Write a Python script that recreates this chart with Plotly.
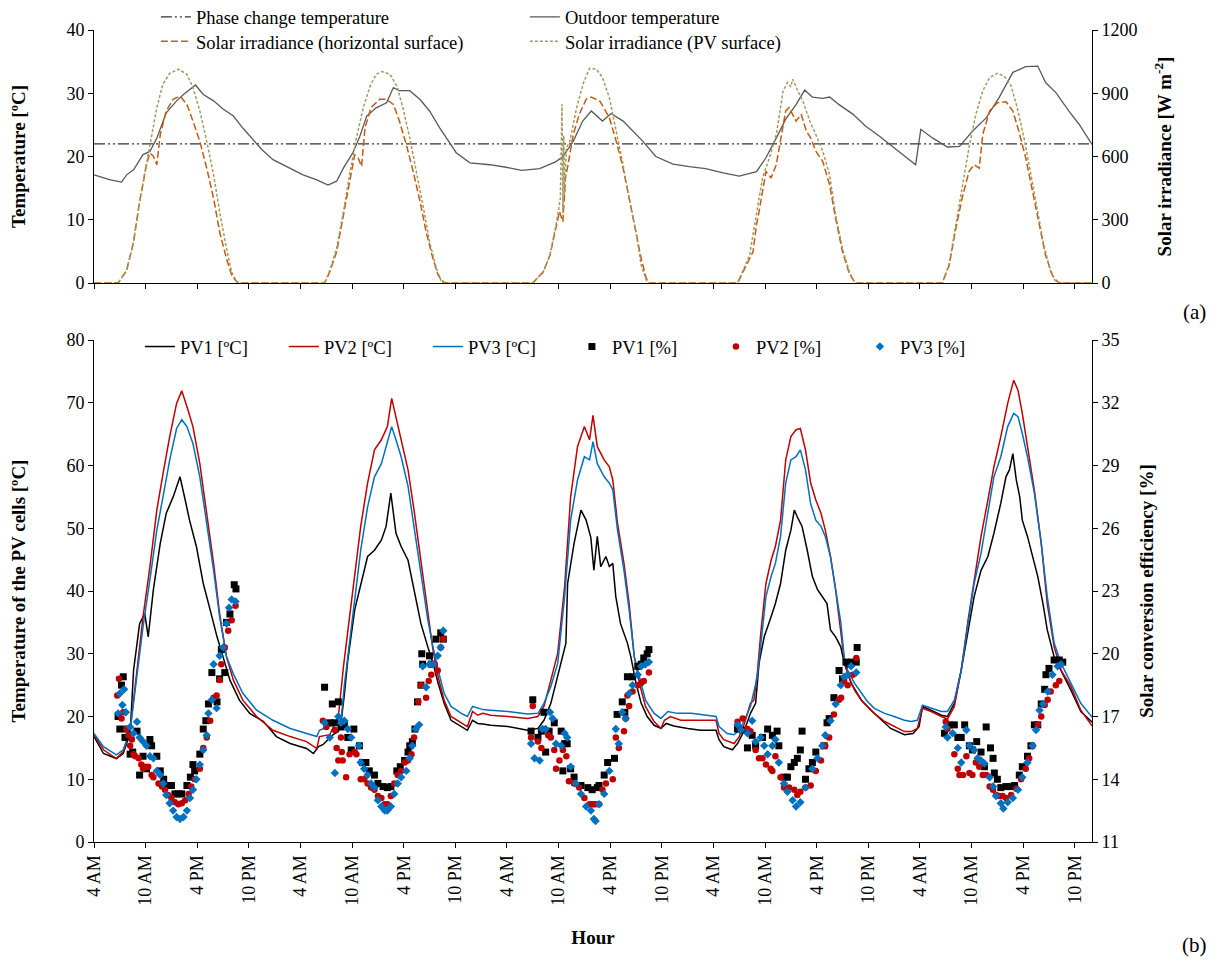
import plotly.graph_objects as go

FONT = "Liberation Serif"

# ---------------- x axis (hours since 4 AM of day 1) ----------------
TICK_HOURS = list(range(0, 115, 6))
TICK_TEXT = ["4 AM", "10 AM", "4 PM", "10 PM"] * 5
X_RANGE = [0, 116]

# ---------------- top panel (a) ----------------
PHASE_CHANGE = [(0, 22.0), (116, 22.0)]

OUTDOOR_TEMP = [
    (0, 17.1), (1.9, 16.3), (3.2, 15.95), (3.8, 17.1), (4.6, 17.9), (5.7, 20.3), (6.5, 20.8), (7.3, 22.9),
    (8.4, 26.9), (9.6, 28.8), (10.4, 29.8), (11.1, 30.6), (11.8, 31.3), (12.7, 29.8), (13.9, 28.8), (15.0, 27.5),
    (16.2, 26.4), (17.3, 24.5), (18.5, 22.7), (19.5, 21.1), (20.8, 19.5), (22.8, 18.2), (24.3, 17.1), (25.9, 16.3),
    (27.2, 15.5), (28.2, 16.1), (29.0, 18.2), (30.1, 20.6), (30.9, 23.2), (31.7, 26.4), (32.8, 27.7), (34.0, 28.5),
    (34.8, 30.9), (35.5, 30.4), (36.7, 30.4), (37.9, 29.0), (39.0, 27.2), (40.2, 24.5), (41.2, 22.4), (42.1, 20.6),
    (43.7, 19.0), (46.0, 18.7), (47.9, 18.3), (49.7, 17.8), (51.8, 18.1), (53.7, 19.2), (54.5, 20.0), (55.7, 22.4),
    (56.8, 25.6), (57.8, 27.2), (59.1, 25.6), (60.1, 26.8), (61.5, 25.6), (62.6, 24.0), (63.8, 22.4), (65.3, 20.0),
    (67.3, 18.8), (69.2, 18.4), (71.1, 18.1), (73.1, 17.4), (75.0, 16.9), (77.0, 17.6), (78.1, 19.8), (79.3, 22.9),
    (80.4, 25.9), (81.6, 28.2), (82.6, 30.5), (83.5, 29.4), (84.7, 29.2), (85.5, 29.4), (86.6, 28.2), (88.2, 26.7),
    (89.7, 24.8), (91.3, 23.2), (92.8, 21.6), (94.4, 20.0), (95.5, 18.7), (96.1, 24.3), (97.5, 22.9), (99.2, 21.5),
    (100.6, 21.6), (102.1, 24.0), (103.7, 26.1), (105.2, 29.3), (106.8, 33.3), (108.3, 34.2), (109.7, 34.3),
    (110.6, 31.7), (111.8, 30.1), (113.3, 27.2), (114.5, 25.1), (116, 21.9),
]

IRR_HORIZONTAL = [
    (0, 0), (2.8, 0), (3.8, 60), (4.6, 196), (5.3, 386), (6.1, 561), (6.5, 617), (6.9, 601), (7.3, 561),
    (7.7, 704), (8.4, 816), (9.2, 871), (10.0, 887), (10.8, 847), (11.5, 768), (12.3, 672), (13.1, 545),
    (13.9, 402), (14.6, 243), (15.4, 116), (16.0, 37), (16.6, 5), (16.9, 0),
    (26.8, 0), (27.4, 52), (28.2, 148), (29.0, 323), (29.7, 482), (30.3, 609), (30.7, 593), (31.1, 553),
    (31.5, 736), (32.2, 832), (33.2, 871), (34.0, 871), (34.8, 847), (35.5, 768), (36.3, 657), (37.1, 529),
    (37.9, 386), (38.6, 243), (39.4, 116), (40.0, 37), (40.6, 5), (40.9, 0),
    (51.0, 0), (52.2, 52), (53.0, 132), (53.7, 275), (54.1, 339), (54.5, 291), (54.8, 500), (55.1, 561),
    (55.7, 704), (56.4, 800), (57.2, 871), (57.8, 882), (58.8, 863), (59.9, 784), (60.7, 672), (61.5, 545),
    (62.2, 402), (63.0, 243), (63.6, 116), (64.2, 21), (64.6, 0),
    (74.8, 0), (75.8, 84), (76.6, 148), (77.0, 275), (77.3, 339), (78.1, 529), (78.7, 498), (79.3, 561),
    (79.9, 704), (80.4, 816), (80.8, 832), (81.2, 800), (81.6, 768), (82.2, 800), (82.8, 720), (83.3, 688),
    (83.9, 625), (84.7, 577), (85.5, 466), (86.2, 307), (87.0, 148), (87.8, 45), (88.4, 5), (88.6, 0),
    (98.6, 0), (99.4, 84), (100.1, 243), (100.9, 402), (101.7, 529), (102.3, 561), (102.9, 545), (103.3, 704),
    (104.1, 816), (105.0, 855), (106.0, 860), (106.8, 816), (107.5, 720), (108.3, 593), (109.1, 434),
    (109.9, 275), (110.6, 132), (111.4, 37), (112.0, 5), (112.3, 0), (116, 0),
]

IRR_PV = [
    (0, 0), (2.8, 0), (3.8, 60), (4.6, 196), (5.3, 386), (6.1, 561), (6.7, 704), (7.3, 832), (8.0, 943),
    (8.8, 994), (9.8, 1014), (10.8, 990), (11.5, 927), (12.3, 816), (13.1, 672), (13.9, 514), (14.6, 339),
    (15.4, 164), (16.0, 52), (16.6, 5), (16.9, 0),
    (26.8, 0), (27.4, 60), (28.2, 164), (29.0, 339), (29.7, 514), (30.5, 688), (31.3, 832), (32.1, 935),
    (32.8, 990), (33.5, 1003), (34.4, 990), (35.2, 935), (35.9, 832), (36.7, 688), (37.5, 529), (38.3, 355),
    (39.0, 196), (39.8, 68), (40.4, 5), (40.8, 0),
    (51.0, 0), (52.2, 52), (53.0, 132), (53.7, 275), (54.2, 400), (54.4, 848), (54.5, 330), (54.6, 700),
    (54.7, 420), (54.9, 640), (55.3, 672), (56.1, 832), (56.9, 951), (57.6, 1018), (58.4, 1014), (59.1, 975),
    (59.9, 879), (60.7, 720), (61.5, 561), (62.2, 402), (63.0, 243), (63.6, 84), (64.2, 13), (64.6, 0),
    (74.8, 0), (76.2, 132), (77.0, 323), (77.7, 498), (78.5, 593), (79.3, 704), (80.1, 911), (80.6, 951),
    (81.0, 930), (81.2, 967), (81.5, 940), (81.8, 911), (82.4, 863), (83.2, 768), (83.9, 704), (84.7, 625),
    (85.5, 514), (86.2, 323), (87.0, 164), (87.8, 52), (88.4, 5), (88.6, 0),
    (98.6, 0), (99.4, 92), (100.1, 259), (100.9, 450), (101.7, 641), (102.5, 800), (103.3, 911), (104.1, 975),
    (105.0, 994), (105.8, 982), (106.6, 935), (107.3, 832), (108.1, 688), (108.9, 514), (109.7, 339),
    (110.4, 180), (111.2, 52), (111.8, 5), (112.1, 0), (116, 0),
]

# ---------------- bottom panel (b): PV cell temperatures ----------------
PV1_TEMP = [
    (0, 16.8), (1.1, 14.1), (2.6, 13.3), (3.4, 14.1), (4.2, 17.3), (4.6, 27.4), (5.3, 34.8), (5.9, 36.4),
    (6.3, 32.7), (6.9, 40.2), (7.7, 47.6), (8.4, 52.4), (9.2, 55.0), (10.0, 58.2), (10.6, 54.5), (11.1, 51.3),
    (11.9, 47.1), (12.7, 41.2), (13.5, 37.0), (14.3, 32.7), (15.0, 29.5), (15.8, 25.8), (16.9, 22.6),
    (18.1, 20.5), (19.7, 19.2), (21.2, 16.8), (22.8, 15.7), (24.7, 14.9), (25.5, 14.1), (26.1, 15.2),
    (26.6, 15.5), (27.8, 17.1), (28.4, 17.6), (28.7, 18.9), (29.1, 23.5), (29.5, 29.0), (30.3, 37.0),
    (31.0, 41.2), (31.8, 45.5), (32.6, 46.5), (33.4, 48.1), (33.95, 50.3), (34.5, 55.6), (35.1, 49.2),
    (35.7, 47.1), (36.5, 44.9), (37.2, 40.2), (38.0, 34.8), (38.8, 31.1), (39.4, 28.5), (40.0, 25.3),
    (40.7, 22.1), (41.5, 19.4), (42.7, 18.4), (43.4, 17.8), (44.0, 19.4), (44.6, 18.9), (45.2, 18.8),
    (46.1, 18.6), (48.1, 18.4), (50.4, 17.8), (51.6, 18.1), (52.3, 19.4), (53.1, 22.1), (53.9, 26.3),
    (54.5, 29.5), (54.85, 31.7), (55.05, 41.2), (55.8, 47.6), (56.6, 52.9), (57.2, 51.3), (57.75, 48.5),
    (58.1, 43.3), (58.5, 48.7), (58.9, 43.9), (59.5, 45.5), (59.9, 43.9), (60.3, 44.4), (60.65, 39.1),
    (61.2, 34.8), (62.0, 31.7), (62.4, 29.5), (63.0, 25.3), (63.6, 22.1), (64.3, 20.0), (65.1, 18.6),
    (65.9, 18.1), (66.5, 18.9), (67.4, 18.5), (69.0, 18.1), (70.5, 17.8), (72.3, 17.8), (72.65, 16.3),
    (73.2, 15.2), (74.2, 14.7), (74.8, 15.7), (75.6, 17.8), (76.3, 20.5), (76.9, 22.1), (77.3, 28.5),
    (77.9, 32.7), (78.7, 35.9), (79.2, 38.0), (79.8, 41.2), (80.4, 46.5), (81.0, 49.7), (81.4, 52.9),
    (81.75, 51.8), (82.3, 50.3), (82.9, 46.5), (83.5, 42.3), (84.1, 40.2), (84.7, 39.1), (85.2, 38.0),
    (85.6, 33.8), (86.2, 32.7), (86.8, 31.1), (87.2, 28.5), (88.0, 25.3), (89.2, 22.6), (90.3, 21.0),
    (91.5, 19.4), (92.6, 18.1), (94.2, 17.1), (95.2, 17.3), (95.9, 18.4), (96.3, 21.6), (97.3, 21.0),
    (98.5, 20.2), (99.2, 20.0), (100.0, 22.1), (100.8, 27.4), (101.6, 33.8), (102.3, 39.1), (103.1, 43.3),
    (103.9, 45.5), (104.6, 49.2), (105.4, 54.0), (106.0, 58.2), (106.4, 59.3), (106.8, 61.9), (107.2, 57.7),
    (107.6, 55.0), (107.9, 51.3), (108.5, 48.7), (109.1, 45.5), (109.7, 42.3), (110.3, 38.0), (110.8, 33.8),
    (111.6, 29.5), (112.4, 27.4), (113.55, 24.2), (114.7, 20.8), (116, 19.1),
]

PV2_TEMP = [
    (0, 17.1), (1.1, 14.7), (2.6, 13.3), (3.4, 14.4), (4.2, 17.8), (5.0, 27.4), (5.7, 35.9), (6.5, 43.9),
    (7.3, 52.9), (8.1, 59.3), (8.8, 64.6), (9.6, 69.9), (10.2, 71.9), (10.8, 69.4), (11.5, 66.2), (12.3, 60.3),
    (13.1, 52.4), (13.9, 44.4), (14.6, 36.4), (15.4, 29.5), (16.2, 25.8), (17.3, 22.6), (18.9, 20.0),
    (20.8, 17.8), (22.8, 16.8), (24.7, 16.0), (25.9, 14.9), (26.2, 16.8), (27.4, 17.1), (28.4, 20.0),
    (29.0, 28.0), (29.5, 33.5), (30.3, 42.3), (31.0, 50.3), (31.8, 57.2), (32.6, 62.5), (33.4, 64.1),
    (34.1, 66.2), (34.6, 70.7), (35.1, 67.8), (35.7, 64.1), (36.5, 59.3), (37.2, 52.9), (38.0, 44.9),
    (38.8, 37.0), (39.4, 30.6), (40.0, 26.3), (40.7, 22.6), (41.5, 20.0), (42.7, 18.9), (43.4, 18.4),
    (44.0, 20.8), (44.6, 20.2), (45.2, 20.5), (46.1, 20.2), (48.1, 20.0), (50.4, 19.7), (51.6, 20.0),
    (52.3, 21.6), (53.1, 25.8), (53.9, 30.1), (54.7, 40.7), (55.4, 55.0), (56.2, 63.0), (57.0, 66.2),
    (57.6, 64.1), (58.0, 68.0), (58.5, 63.0), (59.3, 60.9), (59.9, 59.8), (60.3, 57.7), (60.85, 50.8),
    (61.6, 44.4), (62.2, 38.0), (62.8, 29.5), (63.4, 25.3), (64.1, 21.6), (65.1, 19.2), (65.9, 18.1),
    (66.3, 19.4), (67.0, 20.0), (68.2, 19.4), (72.3, 19.4), (72.65, 17.3), (73.2, 16.3), (74.4, 15.7),
    (75.0, 16.8), (75.6, 18.9), (76.3, 22.1), (76.7, 22.6), (77.1, 26.9), (77.5, 33.3), (78.1, 41.2),
    (78.7, 44.9), (79.2, 47.1), (79.8, 51.3), (80.4, 60.9), (81.0, 64.6), (81.6, 65.7), (82.1, 65.9),
    (82.7, 62.5), (83.3, 57.2), (83.9, 54.5), (84.5, 52.4), (85.0, 49.7), (85.6, 45.5), (86.2, 40.2),
    (86.8, 33.5), (87.2, 29.0), (87.6, 26.8), (88.4, 24.2), (89.2, 22.6), (89.9, 21.6), (90.7, 20.5),
    (91.9, 19.2), (93.0, 18.4), (94.2, 17.6), (95.0, 17.6), (95.7, 18.1), (96.3, 21.3), (97.3, 20.8),
    (98.5, 20.0), (99.2, 19.6), (100.0, 21.6), (100.8, 27.4), (101.6, 35.4), (102.3, 41.8), (103.1, 48.7),
    (103.9, 54.5), (104.6, 59.8), (105.4, 64.6), (106.2, 69.9), (106.9, 73.6), (107.4, 72.0), (107.9, 68.3),
    (108.5, 63.0), (109.3, 56.1), (110.1, 47.6), (110.8, 38.0), (111.6, 31.1), (112.4, 27.4), (113.55, 24.8),
    (114.7, 21.0), (116, 18.5),
]

PV3_TEMP = [
    (0, 17.3), (1.1, 15.2), (2.6, 13.9), (3.4, 14.7), (4.2, 17.8), (5.0, 26.3), (5.7, 34.3), (6.5, 41.8),
    (7.3, 49.7), (8.1, 55.6), (8.8, 60.9), (9.6, 65.9), (10.2, 67.3), (10.8, 66.2), (11.5, 63.5), (12.3, 58.2),
    (13.1, 50.8), (13.9, 43.3), (14.6, 35.9), (15.4, 29.5), (16.2, 26.8), (17.3, 23.7), (18.9, 21.0),
    (20.8, 19.4), (22.8, 18.1), (24.7, 17.3), (25.9, 16.8), (26.2, 17.8), (27.4, 18.4), (28.4, 19.0),
    (28.75, 19.8), (29.1, 25.0), (29.5, 29.5), (30.3, 39.1), (31.0, 46.5), (31.8, 53.4), (32.6, 58.2),
    (33.4, 60.3), (34.1, 63.5), (34.6, 66.2), (35.1, 64.1), (35.7, 61.4), (36.5, 56.7), (37.2, 50.3),
    (38.0, 42.8), (38.8, 35.4), (39.4, 31.1), (40.0, 27.4), (40.7, 23.7), (41.5, 21.6), (42.7, 20.5),
    (43.4, 20.0), (44.0, 21.6), (44.6, 21.3), (45.2, 21.1), (46.1, 21.0), (48.1, 20.8), (50.4, 20.4),
    (51.6, 20.5), (52.3, 22.1), (53.1, 24.8), (53.9, 28.5), (54.7, 39.1), (55.4, 51.3), (56.2, 57.7),
    (57.0, 61.4), (57.6, 60.9), (58.0, 63.8), (58.5, 60.3), (59.3, 58.2), (59.9, 57.2), (60.3, 56.1),
    (60.85, 49.7), (61.6, 43.3), (62.2, 37.0), (62.8, 29.5), (63.4, 26.3), (64.1, 22.6), (65.1, 20.5),
    (65.9, 19.7), (66.7, 20.8), (67.8, 20.5), (69.4, 20.5), (70.9, 20.2), (72.3, 20.0), (72.65, 18.4),
    (73.6, 17.3), (74.4, 17.1), (75.0, 17.8), (75.6, 19.4), (76.3, 21.6), (77.1, 26.3), (77.5, 31.7),
    (78.1, 39.1), (78.7, 42.3), (79.2, 44.4), (79.8, 48.7), (80.4, 57.2), (81.0, 60.9), (81.6, 61.4),
    (82.1, 62.5), (82.7, 59.3), (83.3, 53.9), (83.9, 51.3), (84.5, 50.3), (85.0, 48.7), (85.6, 45.5),
    (86.2, 40.2), (86.8, 35.0), (87.2, 29.5), (87.6, 27.4), (88.4, 25.3), (89.2, 23.7), (89.9, 22.4),
    (90.7, 21.3), (91.9, 20.5), (93.0, 20.0), (94.2, 19.4), (95.0, 19.2), (95.7, 19.4), (96.3, 21.8),
    (97.3, 21.3), (98.5, 20.8), (99.2, 20.8), (100.0, 22.6), (100.8, 27.4), (101.6, 34.8), (102.3, 41.2),
    (103.1, 46.0), (103.9, 52.4), (104.6, 58.2), (105.4, 61.4), (106.2, 66.2), (106.9, 68.3), (107.4, 67.8),
    (107.9, 65.1), (108.5, 61.4), (109.3, 55.6), (110.1, 47.6), (110.8, 39.1), (111.6, 31.7), (112.4, 28.5),
    (113.55, 25.3), (114.7, 22.1), (116, 19.9),
]

# ---------------- bottom panel (b): solar conversion efficiency ----------------
PV1_EFF = [
    (2.8, 17.0), (3.0, 16.4), (3.2, 18.5), (3.4, 18.9), (3.6, 16.0), (3.8, 16.4), (4.2, 15.2), (4.5, 15.3),
    (5.0, 16.3), (5.3, 14.2), (5.7, 15.1), (6.1, 14.5), (6.5, 15.9), (6.7, 15.6), (7.3, 15.1), (7.7, 14.4),
    (8.1, 14.0), (8.6, 13.7), (9.0, 13.7), (9.4, 13.3), (9.8, 13.3), (10.2, 13.3), (10.8, 13.7), (11.2, 14.1),
    (11.5, 14.7), (11.7, 14.4), (12.3, 15.2), (12.7, 16.4), (13.0, 16.8), (13.3, 17.6), (13.7, 19.1),
    (14.3, 17.7), (14.6, 18.8), (14.8, 20.2), (15.2, 19.1), (15.4, 21.5), (15.8, 21.9), (16.3, 23.3),
    (16.5, 23.1),
    (26.8, 18.4), (27.4, 16.7), (27.7, 17.6), (28.0, 16.7), (28.4, 17.7), (28.7, 16.5), (29.1, 16.6),
    (29.5, 16.0), (29.9, 15.4), (30.2, 16.4), (30.85, 15.6), (31.2, 14.8), (31.6, 14.8), (32.0, 14.4),
    (32.6, 14.2), (33.0, 13.8), (33.6, 13.65), (34.1, 13.6), (34.5, 13.65), (35.2, 14.4), (35.6, 14.6),
    (36.1, 14.9), (36.5, 15.3), (36.7, 15.6), (37.0, 15.8), (37.3, 16.4), (37.6, 17.7), (38.0, 18.5),
    (38.1, 20.0), (38.2, 19.5), (39.0, 19.9), (39.2, 19.5), (39.75, 20.7), (40.3, 21.0), (40.6, 20.7),
    (50.8, 16.3), (51.0, 17.8), (51.6, 16.0), (52.0, 16.3), (52.3, 17.2), (52.5, 15.3), (52.9, 16.3),
    (53.5, 16.7), (54.3, 16.3), (54.5, 14.4), (54.7, 15.7), (55.0, 15.7), (55.4, 14.5), (55.8, 14.1),
    (56.6, 13.7), (57.4, 13.6), (57.9, 13.5), (58.5, 13.6), (58.7, 13.7), (59.3, 14.2), (59.7, 14.8),
    (60.5, 15.0), (60.8, 17.1), (61.4, 17.7), (61.7, 17.2), (62.0, 18.9), (62.6, 18.9), (63.2, 19.4),
    (63.6, 19.5), (63.9, 19.8), (64.3, 20.0), (64.5, 20.2),
    (74.8, 16.4), (75.4, 16.35), (75.95, 15.5), (76.5, 16.1), (76.9, 15.6), (77.7, 16.0), (78.3, 16.4),
    (78.85, 16.1), (79.4, 16.3), (79.6, 15.6), (80.2, 14.1), (80.6, 14.1), (81.0, 14.6), (81.4, 14.8),
    (81.75, 15.0), (82.1, 15.4), (82.3, 16.3), (82.7, 14.0), (83.1, 14.5), (83.5, 14.8), (83.9, 15.3),
    (84.85, 15.6), (85.2, 16.7), (85.45, 16.9), (86.0, 17.9), (86.6, 19.2), (87.0, 18.8), (87.4, 19.6),
    (87.8, 19.5), (88.0, 19.6), (88.6, 19.6), (88.7, 20.3),
    (98.85, 16.2), (99.4, 16.6), (100.0, 16.6), (100.4, 16.0), (100.8, 16.0), (101.2, 16.6), (101.75, 15.6),
    (102.1, 15.4), (102.6, 15.8), (103.1, 15.3), (103.5, 14.6), (103.7, 16.5), (104.2, 15.5), (104.5, 15.0),
    (104.65, 14.3), (105.0, 14.0), (105.4, 13.6), (106.0, 13.65), (106.6, 13.65), (107.0, 13.7),
    (107.55, 14.2), (107.9, 14.6), (108.5, 15.1), (108.9, 15.6), (109.3, 16.6), (109.7, 16.6), (110.1, 17.6),
    (110.5, 18.3), (110.65, 19.0), (111.0, 19.3), (111.6, 19.7), (112.2, 19.7), (112.6, 19.6),
]

PV2_EFF = [
    (2.7, 18.0), (2.9, 18.8), (3.2, 16.9), (3.4, 17.2), (3.8, 16.4), (4.0, 16.1), (4.2, 15.6), (4.4, 15.9),
    (4.6, 15.2), (4.8, 15.1), (5.2, 15.0), (5.5, 14.7), (5.7, 14.5), (5.9, 14.6), (6.3, 14.6), (6.7, 14.2),
    (6.9, 14.1), (7.5, 13.8), (7.9, 13.65), (8.25, 13.5), (8.6, 13.25), (9.0, 13.1), (9.4, 12.9), (9.8, 12.8),
    (10.2, 12.85), (10.6, 13.0), (11.0, 13.3), (11.3, 13.65), (11.7, 14.0), (12.3, 14.5), (12.7, 15.5),
    (13.1, 16.0), (13.5, 16.8), (13.9, 17.9), (14.25, 18.0), (14.6, 18.75), (14.8, 19.5), (15.2, 20.3),
    (15.6, 21.1), (16.0, 21.6), (16.45, 22.3),
    (26.6, 16.8), (27.0, 16.5), (28.0, 16.35), (28.2, 15.5), (28.4, 14.9), (28.7, 16.0), (28.8, 15.3),
    (28.9, 14.9), (29.3, 14.1), (29.7, 15.2), (30.3, 15.3), (30.5, 15.2), (31.0, 14.0), (31.4, 14.0),
    (31.8, 13.8), (32.2, 13.6), (32.6, 13.5), (33.0, 13.2), (33.4, 13.1), (33.8, 12.8), (34.1, 12.8),
    (34.5, 13.2), (34.9, 13.8), (35.3, 14.2), (35.7, 14.4), (36.1, 14.8), (36.5, 14.9), (36.9, 15.2),
    (37.2, 16.0), (37.7, 17.7), (38.0, 18.5), (38.6, 17.9), (38.9, 18.7), (39.2, 19.0), (39.6, 19.5),
    (39.95, 19.2), (40.3, 20.3), (40.6, 20.7),
    (50.8, 16.0), (51.0, 17.5), (51.6, 15.8), (52.0, 15.5), (52.3, 16.4), (52.8, 16.1), (53.1, 16.0),
    (53.5, 15.4), (53.7, 14.5), (54.1, 14.9), (54.5, 15.4), (54.9, 15.1), (55.2, 13.9), (55.8, 13.8),
    (56.4, 13.6), (57.0, 13.1), (57.6, 12.8), (57.9, 12.8), (58.1, 12.8), (58.3, 12.8), (58.7, 12.8),
    (59.1, 13.5), (59.5, 13.8), (60.3, 14.0), (60.65, 16.0), (61.0, 15.5), (61.6, 16.3), (61.8, 16.9),
    (62.0, 18.0), (62.2, 17.5), (62.6, 18.2), (63.2, 18.5), (63.6, 18.6), (63.9, 18.7), (64.5, 19.1),
    (74.8, 16.75), (75.4, 16.9), (75.95, 16.4), (76.3, 16.3), (76.9, 15.4), (77.3, 15.0), (77.7, 15.0),
    (78.1, 14.7), (78.65, 14.5), (78.85, 14.4), (79.2, 15.1), (79.8, 14.1), (80.2, 13.6), (80.8, 13.6),
    (81.4, 13.5), (81.75, 13.25), (82.1, 13.4), (82.7, 13.6), (83.3, 13.7), (83.9, 14.4), (84.5, 14.9),
    (85.0, 15.6), (85.45, 16.0), (86.0, 17.1), (86.6, 17.8), (86.84, 17.9), (87.2, 18.7), (87.6, 18.5),
    (88.2, 19.0), (88.6, 19.8),
    (99.0, 16.75), (99.2, 16.4), (100.0, 15.2), (100.4, 14.5), (100.6, 14.2), (101.0, 14.2), (101.4, 15.1),
    (101.75, 14.3), (102.1, 14.2), (102.5, 14.8), (102.9, 14.6), (103.3, 14.2), (103.7, 14.2), (104.1, 13.65),
    (104.5, 13.5), (104.85, 13.25), (105.2, 13.2), (105.6, 13.2), (106.0, 13.1), (106.6, 13.25),
    (107.2, 13.55), (107.75, 14.0), (108.3, 14.5), (108.7, 15.0), (109.1, 15.6), (109.7, 16.6), (110.1, 17.0),
    (110.5, 17.55), (110.85, 17.8), (111.2, 18.2), (111.8, 18.5), (112.2, 18.7),
]

PV3_EFF = [
    (2.8, 17.15), (3.0, 18.1), (3.3, 17.55), (3.5, 18.3), (3.7, 17.2), (4.2, 16.5), (4.6, 16.2), (5.0, 16.75),
    (5.3, 16.0), (5.7, 15.8), (6.1, 15.6), (6.5, 15.1), (6.9, 15.0), (7.3, 14.4), (7.7, 14.2), (8.05, 13.8),
    (8.4, 13.25), (8.8, 12.85), (9.2, 12.5), (9.6, 12.2), (10.0, 12.1), (10.4, 12.2), (10.8, 12.5),
    (11.15, 13.1), (11.5, 13.5), (11.9, 14.0), (12.3, 14.7), (12.7, 15.4), (13.1, 16.1), (13.3, 17.15),
    (13.7, 17.8), (13.9, 19.5), (14.25, 17.4), (14.6, 19.9), (15.0, 20.3), (15.4, 21.45), (15.7, 22.2),
    (16.0, 22.6), (16.45, 22.5),
    (26.8, 16.7), (27.4, 16.0), (28.0, 14.3), (28.4, 17.0), (28.7, 16.7), (29.1, 16.8), (29.5, 16.4),
    (29.9, 16.0), (30.8, 15.6), (31.0, 14.8), (31.4, 14.5), (31.8, 14.2), (32.2, 13.8), (32.6, 13.6),
    (33.0, 13.0), (33.4, 12.7), (33.8, 12.5), (34.1, 12.5), (34.5, 12.7), (34.9, 13.3), (35.3, 13.8),
    (35.7, 14.1), (36.3, 14.4), (36.7, 15.0), (37.0, 15.6), (37.4, 16.4), (37.8, 16.6), (38.2, 19.4),
    (38.6, 18.4), (39.0, 19.5), (39.4, 19.5), (39.95, 19.9), (40.3, 20.3), (40.6, 21.1),
    (50.8, 15.7), (51.2, 15.0), (51.8, 14.9), (52.1, 16.4), (52.5, 16.4), (53.0, 17.2), (53.3, 16.9),
    (53.7, 15.7), (54.3, 15.6), (54.7, 16.2), (55.0, 16.0), (55.4, 14.6), (56.0, 13.8), (56.6, 13.3),
    (57.2, 12.7), (57.75, 12.5), (58.1, 12.1), (58.3, 12.0), (58.7, 12.8), (59.3, 13.3), (59.9, 14.4),
    (60.65, 16.4), (61.0, 15.7), (61.4, 17.2), (61.8, 16.9), (62.2, 18.1), (62.6, 18.5), (63.2, 19.0),
    (63.6, 19.4), (64.1, 19.5), (64.5, 19.6),
    (74.8, 16.6), (75.2, 16.35), (75.95, 16.2), (76.5, 16.8), (76.9, 15.8), (77.5, 16.0), (77.9, 15.6),
    (78.3, 15.2), (78.85, 15.6), (79.2, 15.9), (79.6, 14.8), (80.2, 13.8), (80.6, 13.4), (81.2, 13.0),
    (81.6, 12.7), (82.1, 12.9), (82.7, 13.6), (83.5, 14.5), (84.1, 15.0), (84.65, 15.6), (85.0, 16.1),
    (85.6, 16.8), (86.2, 17.6), (86.8, 18.5), (87.2, 18.9), (87.6, 19.0), (88.0, 19.4), (88.6, 19.1),
    (99.0, 16.5), (99.2, 16.0), (99.8, 16.2), (100.4, 15.5), (100.8, 14.8), (101.4, 16.35), (101.75, 15.6),
    (102.3, 15.4), (102.7, 15.0), (103.1, 14.9), (103.5, 14.75), (104.1, 14.1), (104.5, 13.65),
    (104.85, 13.2), (105.4, 12.85), (105.7, 12.6), (106.2, 12.9), (106.8, 13.1), (107.4, 13.5), (107.9, 14.1),
    (108.5, 14.8), (109.1, 15.6), (109.5, 16.35), (109.9, 17.3), (110.3, 17.6), (110.85, 18.2), (111.4, 19.0),
    (112.0, 19.4), (112.4, 19.5),
]


def xs(pairs):
    return [p[0] for p in pairs]


def ys(pairs):
    return [p[1] for p in pairs]


fig = go.Figure()

# ---- top panel traces ----
fig.add_trace(go.Scatter(x=xs(PHASE_CHANGE), y=ys(PHASE_CHANGE), mode="lines",
                         name="Phase change temperature", legend="legend",
                         line=dict(color="#333333", width=1.3, dash="11px,3px,2px,3px,2px,3px"),
                         xaxis="x", yaxis="y"))
fig.add_trace(go.Scatter(x=xs(OUTDOOR_TEMP), y=ys(OUTDOOR_TEMP), mode="lines",
                         name="Outdoor temperature", legend="legend",
                         line=dict(color="#595959", width=1.3),
                         xaxis="x", yaxis="y"))
fig.add_trace(go.Scatter(x=xs(IRR_HORIZONTAL), y=ys(IRR_HORIZONTAL), mode="lines",
                         name="Solar irradiance (horizontal surface)", legend="legend2",
                         line=dict(color="#C55A11", width=1.5, dash="7px,3px"),
                         xaxis="x", yaxis="y2"))
fig.add_trace(go.Scatter(x=xs(IRR_PV), y=ys(IRR_PV), mode="lines",
                         name="Solar irradiance (PV surface)", legend="legend2",
                         line=dict(color="#A09A5E", width=1.5, dash="3px,2px"),
                         xaxis="x", yaxis="y2"))

# ---- bottom panel traces ----
for name, data, color in [("PV1 [ºC]", PV1_TEMP, "#000000"),
                          ("PV2 [ºC]", PV2_TEMP, "#C00000"),
                          ("PV3 [ºC]", PV3_TEMP, "#0070C0")]:
    fig.add_trace(go.Scatter(x=xs(data), y=ys(data), mode="lines", name=name, legend="legend3",
                             line=dict(color=color, width=1.5), xaxis="x2", yaxis="y3"))

for name, data, color, symbol, size in [("PV1 [%]", PV1_EFF, "#000000", "square", 7),
                                        ("PV2 [%]", PV2_EFF, "#C00000", "circle", 6.5),
                                        ("PV3 [%]", PV3_EFF, "#0070C0", "diamond", 6.5)]:
    fig.add_trace(go.Scatter(x=xs(data), y=ys(data), mode="markers", name=name, legend="legend3",
                             marker=dict(color=color, symbol=symbol, size=size, line=dict(width=0)),
                             xaxis="x2", yaxis="y4"))

tick_font = dict(family=FONT, size=18, color="black")
title_font = dict(family=FONT, size=19, color="black")
legend_font = dict(family=FONT, size=18.5, color="black")
axis_common = dict(showline=True, linecolor="black", linewidth=1, ticks="outside", ticklen=5,
                   tickcolor="black", showgrid=False, zeroline=False, tickfont=tick_font,
                   automargin=False)

TOP_DOMAIN = [0.6884, 1.0]
BOTTOM_DOMAIN = [0.0, 0.6182]

fig.update_layout(
    width=1220, height=963,
    margin=dict(l=86, r=136, t=22, b=129, autoexpand=False),
    paper_bgcolor="white", plot_bgcolor="white",
    font=dict(family=FONT, size=17, color="black"),
    xaxis=dict(domain=[0, 1], anchor="y", range=X_RANGE, tickvals=TICK_HOURS,
               showticklabels=False, **axis_common),
    yaxis=dict(domain=TOP_DOMAIN, anchor="x", range=[0, 40], dtick=10,
               title=dict(text="<b>Temperature [ºC]</b>", font=title_font, standoff=35),
               **axis_common),
    yaxis2=dict(overlaying="y", side="right", anchor="x", range=[0, 1200], dtick=300,
                title=dict(text="<b>Solar irradiance [W m<sup>-2</sup>]</b>", font=title_font, standoff=21),
                **axis_common),
    xaxis2=dict(domain=[0, 1], anchor="y3", range=X_RANGE, tickvals=TICK_HOURS, ticktext=TICK_TEXT,
                tickangle=-90,
                title=dict(text="<b>Hour</b>", font=title_font, standoff=25),
                **axis_common),
    yaxis3=dict(domain=BOTTOM_DOMAIN, anchor="x2", range=[0, 80], dtick=10,
                title=dict(text="<b>Temperature of the PV cells [ºC]</b>", font=title_font, standoff=35),
                **axis_common),
    yaxis4=dict(overlaying="y3", side="right", anchor="x2", range=[11, 35],
                tickvals=[11, 14, 17, 20, 23, 26, 29, 32, 35],
                title=dict(text="<b>Solar conversion efficiency [%]</b>", font=title_font, standoff=21),
                **axis_common),
    legend=dict(orientation="h", x=0.062, xanchor="left", y=1.0155, yanchor="middle",
                entrywidth=324, entrywidthmode="pixels", bgcolor="rgba(0,0,0,0)",
                font=legend_font, traceorder="normal"),
    legend2=dict(orientation="h", x=0.062, xanchor="left", y=0.9855, yanchor="middle",
                 entrywidth=324, entrywidthmode="pixels", bgcolor="rgba(0,0,0,0)",
                 font=legend_font, traceorder="normal"),
    legend3=dict(orientation="h", x=0.046, xanchor="left", y=0.6096, yanchor="middle",
                 entrywidth=99, entrywidthmode="pixels", bgcolor="rgba(0,0,0,0)",
                 font=legend_font, traceorder="normal"),
    annotations=[
        dict(text="(a)", x=1.103, y=0.6527, xref="paper", yref="paper", showarrow=False,
             xanchor="center", yanchor="middle",
             font=dict(family=FONT, size=21, color="black")),
        dict(text="(b)", x=1.103, y=-0.1268, xref="paper", yref="paper", showarrow=False,
             xanchor="center", yanchor="middle",
             font=dict(family=FONT, size=21, color="black")),
    ],
    showlegend=True,
)

fig.write_html("out.html")
